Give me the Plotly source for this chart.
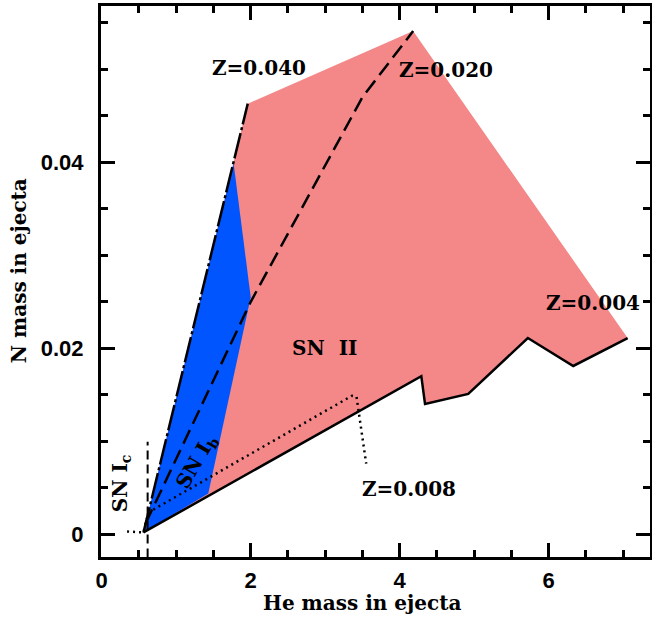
import plotly.graph_objects as go

# SN II region (pink polygon)
snii_x = [0.56, 4.29, 4.34, 4.92, 5.72, 6.33, 7.06, 4.18, 1.96, 0.56]
snii_y = [0.0002, 0.0170, 0.0140, 0.0151, 0.0211, 0.0181, 0.0211, 0.0541, 0.0463, 0.0002]

# SN Ib region (blue polygon)
snib_x = [0.56, 1.77, 2.00, 1.43, 0.56]
snib_y = [0.0002, 0.0399, 0.0255, 0.0044, 0.0002]

# Z=0.004 track (solid)
z004_x = [0.56, 4.29, 4.34, 4.92, 5.72, 6.33, 7.06]
z004_y = [0.0002, 0.0170, 0.0140, 0.0151, 0.0211, 0.0181, 0.0211]

# Z=0.008 track (dotted) with leader to label
z008_x = [0.34, 0.56, 0.60, 0.66, 3.36, 3.42, 3.55]
z008_y = [0.0003, 0.0002, 0.0016, 0.0025, 0.0149, 0.0148, 0.0076]

# Z=0.020 track (dashed)
z020_x = [0.59, 2.00, 3.50, 4.18]
z020_y = [0.0012, 0.0250, 0.0470, 0.0541]

# Z=0.040 track (dash-dot)
z040_x = [0.56, 1.96]
z040_y = [0.0002, 0.0463]

# SN Ic limit (vertical dashed)
snic_x = [0.616, 0.616]
snic_y = [-0.0025, 0.00995]

labels = ["Z=0.040", "Z=0.020", "Z=0.004", "Z=0.008", "SN  II"]
label_x = [2.11, 4.62, 6.59, 4.12, 2.99]
label_y = [0.0501, 0.0499, 0.0249, 0.0049, 0.0200]

PINK = "#f48888"
BLUE = "#0055ff"

fig = go.Figure()
fig.add_trace(go.Scatter(x=snii_x, y=snii_y, fill="toself", fillcolor=PINK,
                         mode="none", hoverinfo="skip"))
fig.add_trace(go.Scatter(x=snib_x, y=snib_y, fill="toself", fillcolor=BLUE,
                         mode="none", hoverinfo="skip"))
fig.add_trace(go.Scatter(x=z004_x, y=z004_y, mode="lines",
                         line=dict(color="black", width=2.5)))
fig.add_trace(go.Scatter(x=z008_x, y=z008_y, mode="lines",
                         line=dict(color="black", width=2.5, dash="2px,4px")))
fig.add_trace(go.Scatter(x=z020_x, y=z020_y, mode="lines",
                         line=dict(color="black", width=2.5, dash="15px,7px")))
fig.add_trace(go.Scatter(x=z040_x, y=z040_y, mode="lines",
                         line=dict(color="black", width=2.5, dash="26px,3px,3px,3px")))
fig.add_trace(go.Scatter(x=snic_x, y=snic_y, mode="lines",
                         line=dict(color="black", width=2, dash="9px,5px")))

serif = dict(family="DejaVu Serif", size=20, color="black", weight="bold")
for t, x, y in zip(labels, label_x, label_y):
    fig.add_annotation(x=x, y=y, text=t, showarrow=False, font=serif,
                       xanchor="center", yanchor="middle")

fig.add_annotation(x=0.26, y=0.0055, text="SN I<sub>c</sub>", showarrow=False,
                   font=serif, textangle=-90, xanchor="center", yanchor="middle")
fig.add_annotation(x=1.27, y=0.0078, text="SN I<sub>b</sub>", showarrow=False,
                   font=serif, textangle=-60, xanchor="center", yanchor="middle")

# axis titles
fig.add_annotation(xref="paper", yref="paper", x=0.475, y=-0.083,
                   text="He mass in ejecta", showarrow=False, font=serif,
                   xanchor="center", yanchor="middle")
fig.add_annotation(xref="paper", yref="paper", x=-0.148, y=0.52,
                   text="N mass in ejecta", showarrow=False, font=serif,
                   textangle=-90, xanchor="center", yanchor="middle")

tickfont = dict(family="Liberation Sans", size=22, color="black", weight="bold")
fig.update_xaxes(range=[-0.01, 7.36], tickmode="array", tickvals=[0, 2, 4, 6],
                 ticktext=["0", "2", "4", "6"],
                 ticks="inside", ticklen=14, tickwidth=2.5, tickcolor="black",
                 minor=dict(ticks="inside", ticklen=7, tickwidth=2.5, dtick=0.5,
                            tickcolor="black", showgrid=False),
                 showline=True, linewidth=3, linecolor="black", mirror="ticks",
                 showgrid=False, zeroline=False, tickfont=tickfont,
                 automargin=False, ticklabelstandoff=2)
fig.update_yaxes(range=[-0.00244, 0.0568], tickmode="array", tickvals=[0, 0.02, 0.04],
                 ticktext=["0", "0.02", "0.04"],
                 ticks="inside", ticklen=14, tickwidth=2.5, tickcolor="black",
                 minor=dict(ticks="inside", ticklen=7, tickwidth=2.5, dtick=0.005,
                            tickcolor="black", showgrid=False),
                 showline=True, linewidth=3, linecolor="black", mirror="ticks",
                 showgrid=False, zeroline=False, tickfont=tickfont,
                 automargin=False, ticklabelstandoff=10)

fig.update_layout(width=652, height=619, showlegend=False,
                  margin=dict(l=101, r=2, t=6, b=62),
                  plot_bgcolor="white", paper_bgcolor="white")

fig.write_html("out.html", config={"displayModeBar": False},
               post_script="document.body.style.margin='0';")
